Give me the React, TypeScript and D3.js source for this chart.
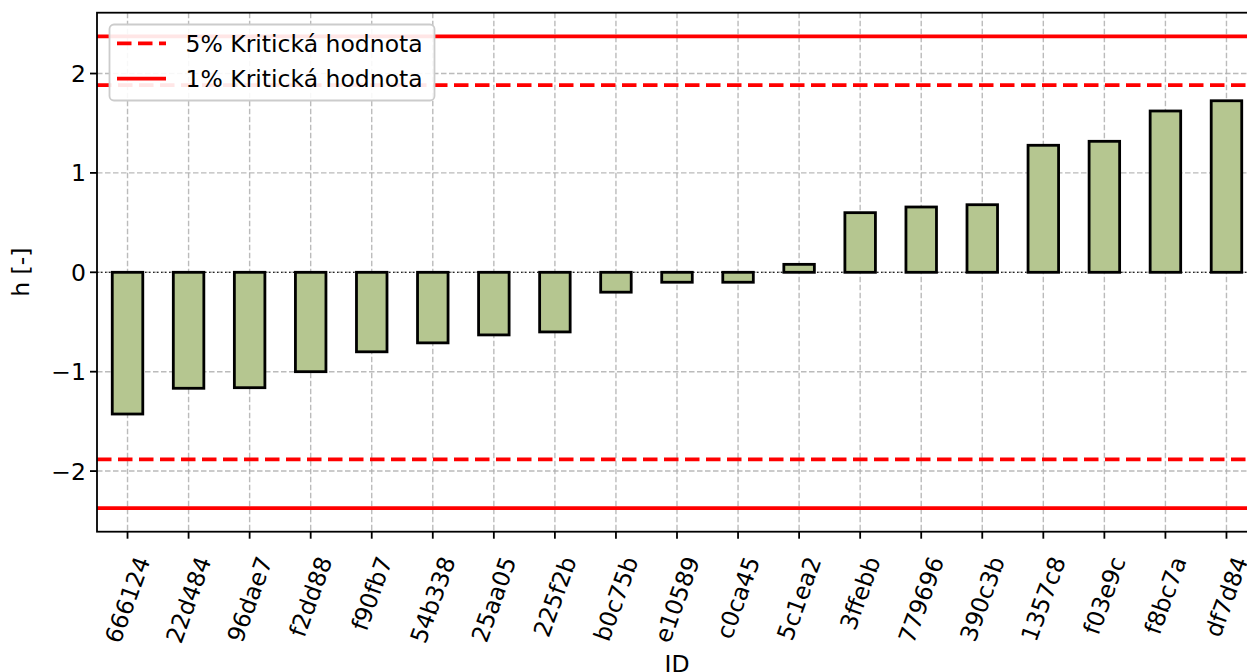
import React, { useEffect, useRef } from "react";
import * as d3 from "d3";

const ids = ["666124", "22d484", "96dae7", "f2dd88", "f90fb7", "54b338", "25aa05", "225f2b", "b0c75b", "e10589", "c0ca45", "5c1ea2", "3ffebb", "779696", "390c3b", "1357c8", "f03e9c", "f8bc7a", "df7d84"];
const hValues = [-1.426, -1.167, -1.161, -1.0, -0.8, -0.71, -0.63, -0.6, -0.2, -0.1, -0.1, 0.08, 0.6, 0.657, 0.68, 1.278, 1.318, 1.623, 1.726];
const crit5 = 1.883;
const crit1 = 2.373;
const yTicks = [-2, -1, 0, 1, 2];
const legendLabels = ["5% Kritická hodnota", "1% Kritická hodnota"];

const W = 1247, H = 672;
const left = 97, right = 1257, top = 12.7, bottom = 531.7;
const FONT = "DejaVu Sans";
const FS = 23.5;

export default function App() {
  const ref = useRef<SVGSVGElement | null>(null);
  useEffect(() => {
    const svg = d3.select(ref.current);
    svg.selectAll("*").remove();
    const x = d3.scaleBand<string>().domain(ids).range([left, right]).padding(0);
    const barW = x.bandwidth() * 0.5;
    const y = d3.scaleLinear().domain([-2.61, 2.612]).range([bottom, top]);
    const cx = (d: string) => (x(d) as number) + x.bandwidth() / 2;

    const g = svg.append("g");
    // grid
    g.selectAll("line.gx").data(ids).enter().append("line")
      .attr("x1", cx).attr("x2", cx).attr("y1", top).attr("y2", bottom)
      .attr("stroke", "#b0b0b0").attr("stroke-width", 1.4).attr("stroke-dasharray", "5.5,2.5").attr("opacity", 0.85);
    g.selectAll("line.gy").data(yTicks).enter().append("line")
      .attr("x1", left).attr("x2", right).attr("y1", (d) => y(d)).attr("y2", (d) => y(d))
      .attr("stroke", "#b0b0b0").attr("stroke-width", 1.4).attr("stroke-dasharray", "5.5,2.5").attr("opacity", 0.85);
    // zero line
    g.append("line").attr("x1", left).attr("x2", right).attr("y1", y(0)).attr("y2", y(0))
      .attr("stroke", "#222").attr("stroke-width", 1.2).attr("stroke-dasharray", "1.5,2.5");
    // bars
    g.selectAll("rect.bar").data(ids).enter().append("rect")
      .attr("x", (d) => cx(d) - barW / 2)
      .attr("width", barW)
      .attr("y", (d, i) => Math.min(y(hValues[i]), y(0)))
      .attr("height", (d, i) => Math.abs(y(hValues[i]) - y(0)))
      .attr("fill", "#b5c690").attr("stroke", "#000").attr("stroke-width", 2.8);
    // critical lines
    const crit = [
      { v: crit5, dash: "14.5,6.5" },
      { v: -crit5, dash: "14.5,6.5" },
      { v: crit1, dash: null },
      { v: -crit1, dash: null },
    ];
    crit.forEach((c) => {
      const l = g.append("line").attr("x1", left).attr("x2", right).attr("y1", y(c.v)).attr("y2", y(c.v))
        .attr("stroke", "#ff0000").attr("stroke-width", 3.8);
      if (c.dash) l.attr("stroke-dasharray", c.dash);
    });
    // spines
    g.append("rect").attr("x", left).attr("y", top).attr("width", right - left).attr("height", bottom - top)
      .attr("fill", "none").attr("stroke", "#000").attr("stroke-width", 1.8);
    // y ticks
    yTicks.forEach((t) => {
      g.append("line").attr("x1", left - 7).attr("x2", left).attr("y1", y(t)).attr("y2", y(t))
        .attr("stroke", "#000").attr("stroke-width", 1.8);
      g.append("text").attr("x", left - 11).attr("y", y(t)).attr("dy", "0.36em")
        .attr("text-anchor", "end").attr("font-family", FONT).attr("font-size", FS)
        .text(t < 0 ? "\u2212" + Math.abs(t) : String(t));
    });
    // x ticks
    ids.forEach((d) => {
      const px = cx(d);
      g.append("line").attr("x1", px).attr("x2", px).attr("y1", bottom).attr("y2", bottom + 7)
        .attr("stroke", "#000").attr("stroke-width", 1.8);
      const t = g.append("text").attr("font-family", FONT).attr("font-size", FS)
        .attr("text-anchor", "end").attr("dy", "0.35em").text(d);
      const L = (t.node() as SVGTextElement).getComputedTextLength();
      const ang = 70 * Math.PI / 180;
      const h = FS * 1.17;
      const Px = px + (L * Math.cos(ang)) / 2;
      const Py = 553 + (h / 2) * Math.cos(ang);
      t.attr("transform", `translate(${Px},${Py}) rotate(-70)`);
    });
    // axis labels
    g.append("text").attr("x", (left + right) / 2).attr("y", 664).attr("dy", "0.36em")
      .attr("text-anchor", "middle").attr("font-family", FONT).attr("font-size", FS).text("ID");
    g.append("text").attr("transform", `translate(21,${(top + bottom) / 2}) rotate(-90)`).attr("dy", "0.36em")
      .attr("text-anchor", "middle").attr("font-family", FONT).attr("font-size", FS).text("h [-]");
    // legend
    const lg = g.append("g");
    lg.append("rect").attr("x", 109.5).attr("y", 24.5).attr("width", 325).attr("height", 76).attr("rx", 4.5)
      .attr("fill", "#fff").attr("fill-opacity", 0.9).attr("stroke", "#cccccc").attr("stroke-width", 1.8);
    legendLabels.forEach((lab, i) => {
      const ly = 43.3 + i * 35.4;
      const l = lg.append("line").attr("x1", 117).attr("x2", 166).attr("y1", ly).attr("y2", ly)
        .attr("stroke", "#ff0000").attr("stroke-width", 3.8);
      if (i === 0) l.attr("stroke-dasharray", "14.5,6.5");
      lg.append("text").attr("x", 185.5).attr("y", ly).attr("dy", "0.36em")
        .attr("font-family", FONT).attr("font-size", FS).text(lab);
    });
  }, []);
  return (
    <div style={{ position: "absolute", left: 0, top: 0 }}>
      <svg ref={ref} width={W} height={H} style={{ display: "block", background: "#fff" }} />
    </div>
  );
}
